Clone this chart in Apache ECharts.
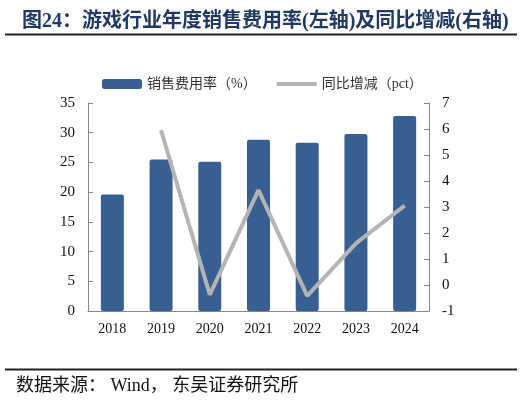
<!DOCTYPE html>
<html>
<head>
<meta charset="utf-8">
<script src="https://cdn.jsdelivr.net/npm/echarts@6/dist/echarts.min.js"></script>
<style>
  html, body { margin: 0; padding: 0; background: #fff; }
  #main { width: 524px; height: 403px; }
</style>
</head>
<body>
<div id="main"></div>
<script>
const years = ['2018', '2019', '2020', '2021', '2022', '2023', '2024'];
// 销售费用率（%）
const salesRate = [19.6, 25.5, 25.1, 28.8, 28.3, 29.8, 32.8];
// 同比增减（pct），2018 无数据
const yoyChange = [null, 5.95, -0.37, 3.65, -0.42, 1.6, 3.05];

const serif = "'Liberation Serif', 'Times New Roman', 'Noto Sans CJK SC', serif";
const axisGray = '#868686';

const chart = echarts.init(document.getElementById('main'));
chart.setOption({
  backgroundColor: '#fff',
  animation: false,
  title: {
    text: '图24：游戏行业年度销售费用率(左轴)及同比增减(右轴)',
    left: 17,
    top: 7,
    textStyle: {
      fontFamily: serif,
      fontSize: 20,
      fontWeight: 'bold',
      color: '#1f3864'
    }
  },
  legend: {
    top: 72,
    left: 97,
    itemGap: 20,
    itemWidth: 40,
    itemHeight: 10,
    textStyle: { fontFamily: serif, fontSize: 14, color: '#333' },
    data: [
      { name: '销售费用率（%）', icon: 'roundRect' },
      { name: '同比增减（pct）', icon: 'path://M0,0H40V4H0Z' }
    ]
  },
  grid: { left: 88, right: 95, top: 103, bottom: 92 },
  xAxis: {
    type: 'category',
    data: years,
    axisLine: { lineStyle: { color: axisGray } },
    axisTick: { inside: true, length: 5, lineStyle: { color: axisGray } },
    axisLabel: { fontFamily: serif, fontSize: 14, color: '#111', margin: 11 }
  },
  yAxis: [
    {
      type: 'value',
      min: 0,
      max: 35,
      interval: 5,
      splitLine: { show: false },
      axisLine: { show: true, lineStyle: { color: axisGray } },
      axisTick: { show: true, inside: true, length: 5, lineStyle: { color: axisGray } },
      axisLabel: { fontFamily: serif, fontSize: 15, color: '#111', margin: 13 }
    },
    {
      type: 'value',
      min: -1,
      max: 7,
      interval: 1,
      splitLine: { show: false },
      axisLine: { show: true, lineStyle: { color: axisGray } },
      axisTick: { show: true, inside: true, length: 5, lineStyle: { color: axisGray } },
      axisLabel: { fontFamily: serif, fontSize: 15, color: '#111', margin: 13 }
    }
  ],
  series: [
    {
      name: '销售费用率（%）',
      type: 'bar',
      yAxisIndex: 0,
      data: salesRate,
      barWidth: 23,
      itemStyle: { color: '#375f91', borderRadius: 2 }
    },
    {
      name: '同比增减（pct）',
      type: 'line',
      yAxisIndex: 1,
      data: yoyChange,
      symbol: 'none',
      z: 5,
      lineStyle: { color: '#b4b4b4', width: 4 },
      itemStyle: { color: '#b4b4b4' }
    }
  ],
  graphic: [
    {
      type: 'rect',
      shape: { x: 5, y: 33.5, width: 512, height: 2 },
      style: { fill: '#222' }
    },
    {
      type: 'rect',
      shape: { x: 5, y: 368.5, width: 512, height: 2 },
      style: { fill: '#222' }
    },
    {
      type: 'text',
      left: 16,
      top: 377,
      style: {
        text: '数据来源： Wind， 东吴证券研究所',
        fontFamily: serif,
        fontSize: 18,
        fill: '#111'
      }
    }
  ]
});
</script>
</body>
</html>
